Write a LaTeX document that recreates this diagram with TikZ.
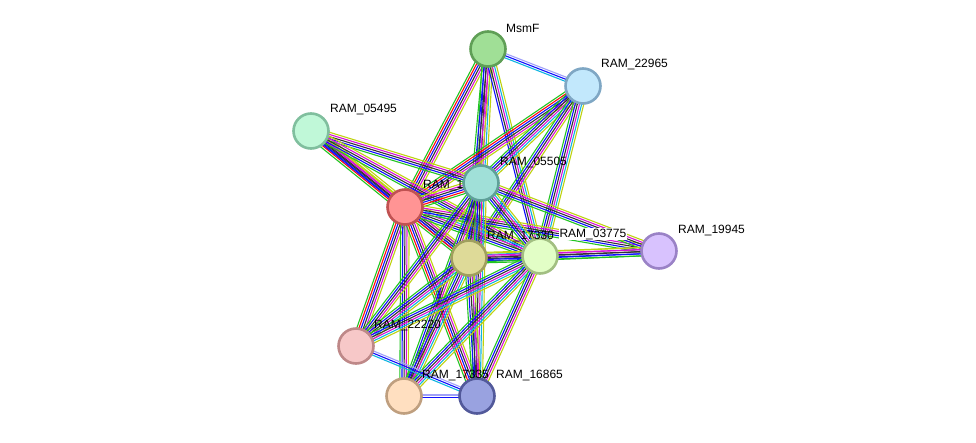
\documentclass[tikz,border=0pt]{standalone}
\usepackage{fontspec}
\setmainfont{Liberation Sans}
\usetikzlibrary{calc}
\pgfdeclarelayer{bg}
\pgfsetlayers{bg,main}
\definecolor{gn}{HTML}{22C422}
\definecolor{rd}{HTML}{FF0A0A}
\definecolor{bl}{HTML}{1010FF}
\definecolor{bk}{HTML}{333333}
\definecolor{mg}{HTML}{D810D8}
\definecolor{cy}{HTML}{10B4E0}
\definecolor{yl}{HTML}{BED210}
\definecolor{lv}{HTML}{A0A0F8}
\tikzset{
  prot/.style={circle, minimum size=35pt, inner sep=0pt, line width=2.6pt},
  lab/.style={anchor=west, font=\fontsize{12}{14}\selectfont, inner sep=1pt, text=black}
}
\newcommand\sedge[3]{%
  \foreach \cc [count=\ii] in {#3} {\xdef\nnn{\ii}}%
  \foreach \cc [count=\ii] in {#3} {%
    \pgfmathsetmacro\off{(\ii-(\nnn+1)/2)*2.1}%
    \draw[\cc, line width=1.1pt] ($(#1.center)!\off pt!90:(#2.center)$) -- ($(#2.center)!\off pt!-90:(#1.center)$);
  }}
\newcommand\prot[5]{% name, x, y, fill, border
  \node[prot, fill=#4, draw=#5] (#1) at (#2,#3) {};}
\definecolor{f22220}{HTML}{F7C8C8}\definecolor{d22220}{HTML}{BE8888}
\definecolor{f17335}{HTML}{FFDFC0}\definecolor{d17335}{HTML}{BF9F7F}
\definecolor{f16865}{HTML}{99A2E0}\definecolor{d16865}{HTML}{52599A}
\definecolor{f05495}{HTML}{C0F8D8}\definecolor{d05495}{HTML}{80BF9E}
\definecolor{fmsmf}{HTML}{A0DF96}\definecolor{dmsmf}{HTML}{5F9F56}
\definecolor{f22965}{HTML}{C2E8FC}\definecolor{d22965}{HTML}{7FA7C4}
\definecolor{f19945}{HTML}{D8C2FE}\definecolor{d19945}{HTML}{9A82C6}
\definecolor{f1}{HTML}{FF9494}\definecolor{d1}{HTML}{C05252}
\definecolor{f05505}{HTML}{A0E0D8}\definecolor{d05505}{HTML}{5FA098}
\definecolor{f17330}{HTML}{DEDA98}\definecolor{d17330}{HTML}{A09F5E}
\definecolor{f03775}{HTML}{E2FEC6}\definecolor{d03775}{HTML}{A2BF82}
\begin{document}
\begin{tikzpicture}[x=1pt,y=-1pt]
\useasboundingbox (0,0) rectangle (976,442);
\prot{n22220}{356}{346}{f22220}{d22220}
\node[lab] at ($(n22220)+(17,-21)$) {RAM\_22220};
\prot{n17335}{404}{396}{f17335}{d17335}
\prot{n16865}{477}{396}{f16865}{d16865}
\node[lab] at ($(n17335)+(17,-21)$) {RAM\_17335};
\node[lab] at ($(n16865)+(18,-21)$) {RAM\_16865};
\prot{n05495}{311}{131}{f05495}{d05495}
\node[lab] at ($(n05495)+(18,-21)$) {RAM\_05495};
\prot{msmf}{488}{49}{fmsmf}{dmsmf}
\node[lab] at ($(msmf)+(17,-21)$) {MsmF};
\prot{n22965}{583}{86}{f22965}{d22965}
\node[lab] at ($(n22965)+(17,-21)$) {RAM\_22965};
\prot{n19945}{659}{251}{f19945}{d19945}
\node[lab] at ($(n19945)+(18,-21)$) {RAM\_19945};
\prot{n1}{405}{207}{f1}{d1}
\node[lab] at ($(n1)+(17,-21)$) {RAM\_1};
\prot{n05505}{481}{183}{f05505}{d05505}
\node[lab] at ($(n05505)+(18,-21)$) {RAM\_05505};
\prot{n03775}{540}{256}{f03775}{d03775}
\prot{n17330}{469}{258}{f17330}{d17330}
\node[lab] at ($(n17330)+(17,-22)$) {RAM\_17330};
\node[lab, fill=white, inner sep=0.3pt] at ($(n03775)+(19,-22)$) {RAM\_03775};
\begin{pgfonlayer}{bg}
\sedge{msmf}{n22965}{cy,bl,lv}
\sedge{msmf}{n1}{gn,rd,bl,bk,mg,yl}
\sedge{msmf}{n05505}{gn,bl,bk,mg,cy,yl}
\sedge{msmf}{n17330}{gn,bl,bk,mg,yl}
\sedge{msmf}{n03775}{bl,bk,mg,cy,yl}
\sedge{n22965}{n1}{gn,rd,bl,bk,mg,yl}
\sedge{n22965}{n05505}{gn,bl,bk,mg,cy,yl}
\sedge{n22965}{n17330}{gn,bl,bk,mg,yl}
\sedge{n22965}{n03775}{gn,bl,bk,mg,cy,yl}
\sedge{n05495}{n1}{gn,rd,bl,bk,mg,yl,yl}
\sedge{n05495}{n05505}{gn,bl,bk,mg,yl}
\sedge{n05495}{n17330}{bl,bk,mg,yl}
\sedge{n05495}{n03775}{gn,bl,bk,mg,yl}
\sedge{n1}{n05505}{gn,rd,bl,bk,mg,yl}
\sedge{n1}{n17330}{gn,rd,bl,bk,mg,yl}
\sedge{n1}{n03775}{gn,bl,bk,mg,cy,yl}
\sedge{n1}{n19945}{gn,bl,bk,mg,yl}
\sedge{n1}{n22220}{gn,rd,bl,bk,mg,yl}
\sedge{n1}{n17335}{gn,bl,bk,mg,yl}
\sedge{n1}{n16865}{gn,rd,bl,bk,mg,yl}
\sedge{n05505}{n17330}{gn,bl,bk,mg,cy,yl}
\sedge{n05505}{n03775}{gn,bl,bk,mg,cy,yl}
\sedge{n05505}{n19945}{gn,bl,bk,mg,yl}
\sedge{n05505}{n22220}{gn,bl,bk,mg,yl}
\sedge{n05505}{n17335}{gn,bl,bk,mg,yl}
\sedge{n05505}{n16865}{gn,bl,bk,mg,cy,yl}
\sedge{n17330}{n03775}{gn,bl,bk,mg,cy,yl}
\sedge{n17330}{n19945}{gn,bl,bk,mg,yl}
\sedge{n17330}{n22220}{gn,bl,bk,mg,cy,yl}
\sedge{n17330}{n17335}{gn,bl,bk,mg,cy,yl}
\sedge{n17330}{n16865}{gn,bl,bk,mg,yl}
\sedge{n03775}{n19945}{gn,bl,bk,mg,yl}
\sedge{n03775}{n22220}{gn,bl,bk,mg,cy,yl}
\sedge{n03775}{n17335}{gn,bl,bk,mg,cy,yl}
\sedge{n03775}{n16865}{gn,bl,bk,mg,yl}
\sedge{n22220}{n16865}{cy,bl,lv}
\sedge{n17335}{n16865}{bl,lv}
\end{pgfonlayer}
\end{tikzpicture}
\end{document}
